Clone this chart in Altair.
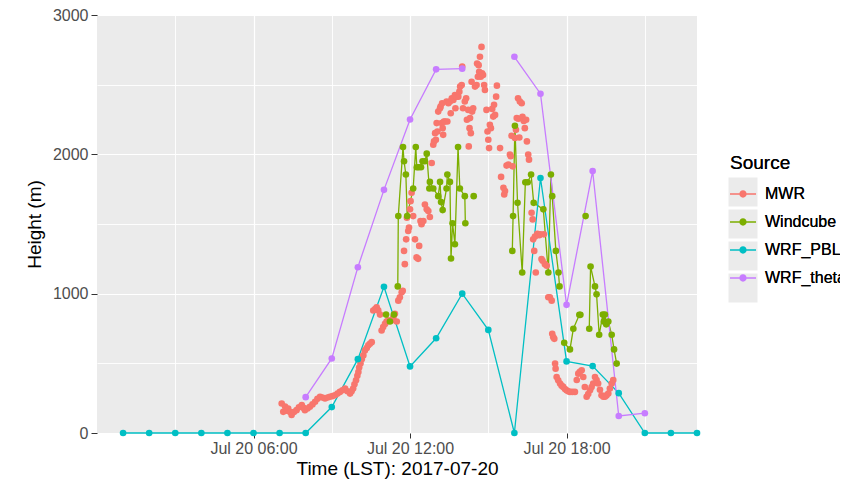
import altair as alt
import pandas as pd

sources = ["MWR", "Windcube", "WRF_PBLH", "WRF_theta"]
colors = ["#F8766D", "#7CAE00", "#00BFC4", "#C77CFF"]

# ---- MWR (points only) : hour of day, height (m)
mwr_hour = [
    7.08, 7.14, 7.21, 7.27, 7.33, 7.40, 7.46, 7.55, 7.65, 7.74, 7.85, 7.92, 7.97,
    8.07, 8.16, 8.26, 8.36, 8.45, 8.55, 8.64, 8.74, 8.84, 8.93, 9.03, 9.12, 9.22,
    9.31, 9.41, 9.51, 9.60, 9.70, 9.76, 9.82, 9.87, 9.93, 9.98, 10.02, 10.05,
    10.10, 10.15, 10.21, 10.27, 10.34, 10.40, 10.46, 10.53, 10.59, 10.66, 10.72,
    10.78, 10.85, 10.91, 10.97, 11.04, 11.10, 11.16, 11.23, 11.29, 11.36, 11.42,
    11.49, 11.55, 11.61, 11.68, 11.72, 11.77, 11.80, 11.85, 11.88, 11.93, 11.96,
    12.00, 12.02, 12.06, 12.12, 12.19, 12.25, 12.31, 12.35, 12.40, 12.44, 12.51,
    12.57, 12.64, 12.70, 12.76, 12.83, 12.89, 12.92, 12.96, 12.99, 13.02, 13.05,
    13.08, 13.15, 13.17, 13.21, 13.23, 13.25, 13.27, 13.30, 13.34, 13.40, 13.43,
    13.47, 13.53, 13.56, 13.60, 13.66, 13.72, 13.74, 13.79, 13.85, 13.89, 13.92,
    13.98, 14.00, 14.03, 14.10, 14.15, 14.18, 14.23, 14.25, 14.28, 14.30, 14.33,
    14.36, 14.38, 14.42, 14.49, 14.55, 14.57, 14.60, 14.63, 14.65, 14.68, 14.71,
    14.74, 14.76, 14.80, 14.84, 14.87, 14.93, 14.97, 15.00, 15.03, 15.06, 15.10,
    15.15, 15.19, 15.22, 15.26, 15.30, 15.33, 15.45, 15.49, 15.58, 15.61, 15.64,
    15.70, 15.77, 15.83, 15.86, 15.89, 15.93, 16.02, 16.06, 16.09, 16.14, 16.16,
    16.19, 16.21, 16.28, 16.31, 16.36, 16.40, 16.45, 16.48, 16.53, 16.56, 16.66,
    16.70, 16.72, 16.76, 16.79, 16.82, 16.88, 16.95, 17.00, 17.04, 17.08, 17.13,
    17.17, 17.24, 17.30, 17.36, 17.43, 17.45, 17.49, 17.53, 17.56, 17.58, 17.62,
    17.68, 17.75, 17.81, 17.87, 17.94, 18.00, 18.06, 18.13, 18.22, 18.32, 18.39,
    18.45, 18.51, 18.58, 18.64, 18.70, 18.77, 18.83, 18.90, 18.96, 19.02, 19.09,
    19.15, 19.21, 19.28, 19.34, 19.41, 19.47, 19.53, 19.60, 19.66, 19.73, 19.79,
]
mwr_height = [
    212, 152, 190, 160, 176, 150, 129, 150, 164, 185, 200, 180, 164,
    176, 188, 205, 224, 245, 260, 255, 248, 255, 260, 265, 271, 283,
    295, 307, 319, 300, 283, 300, 319, 350, 379, 410, 438, 470,
    498, 530, 557, 593, 610, 629, 640, 652, 879, 890, 902,
    880, 850, 736, 760, 783, 800, 807, 807, 807, 830, 855,
    800, 950, 974, 1010, 1021, 1307, 1212, 1390, 1545, 1450, 1474,
    1605, 1664, 1724, 1557, 1390, 1260, 1250, 1343, 1521, 1498, 1521,
    1640, 1605, 1593, 1550, 1938, 2069, 2093, 2152, 2105, 2224, 2164,
    2307, 2331, 2343, 2224, 2367, 2188, 2140, 2236, 2236, 2379, 2236,
    2367, 2379, 2295, 2402, 2390, 2426, 2331, 2414, 2414, 2450, 2486,
    2498, 2630, 2331, 2379, 2402, 2248, 2319, 2057, 2188, 2260, 2152,
    2521, 2307, 2331, 2486, 2498, 2652, 2557, 2640, 2593, 2700, 2557,
    2771, 2581, 2569, 2498, 2462, 2319, 2164, 2105, 2045, 2212, 2188,
    2326, 2271, 2355, 2283, 2414, 2493, 2045, 1838, 1760, 1712, 1736,
    1919, 1926, 1998, 1986, 2133, 1914, 2117, 2176, 2260, 2402, 2255,
    2121, 2379, 2367, 2270, 2240, 2188, 2248, 2093, 1998, 1962, 1581,
    1533, 1390, 1307, 1410, 1152, 1430, 1420, 1426, 1248, 1236, 1426,
    1212, 1200, 974, 974, 950, 712, 688, 676, 498, 462, 402,
    379, 355, 340, 331, 315, 307, 300, 295, 295, 295, 380,
    426, 440, 450, 402, 330, 260, 280, 307, 330, 355, 402,
    380, 355, 310, 271, 260, 260, 270, 283, 319, 355, 380,
]

# ---- Windcube (points + line, gaps split the line into segments)
wind_hour = [
    11.08, 11.23, 11.38,
    11.53, 11.55, 11.73, 11.77, 11.84, 11.89, 12.12, 12.22, 12.26, 12.33, 12.42,
    12.48, 12.57, 12.64, 12.74, 12.76, 12.89, 13.08, 13.15, 13.19, 13.25, 13.40,
    13.43, 13.53, 13.57, 13.63, 13.72, 13.84, 13.91, 14.10, 14.12,
    14.44,
    15.92, 15.95, 16.02, 16.12, 16.30, 16.42, 16.51, 16.64, 16.74, 17.11, 17.30,
    17.40, 17.45, 17.59, 17.69, 17.73,
    17.91, 18.13, 18.26, 18.49, 18.53,
    18.73,
    18.87, 18.92, 19.09, 19.15, 19.25, 19.39, 19.43, 19.47, 19.52, 19.60, 19.73,
    19.82, 19.92,
]
wind_height = [
    850, 800, 850,
    1052, 1557, 2052, 1950, 1855, 1557, 1755, 2052, 1907, 1907, 1907,
    1950, 1950, 2005, 1755, 1802, 1755, 1700, 1802, 1657, 1600, 1755,
    1855, 1802, 1252, 1505, 1355, 2052, 1755, 1700, 1505,
    1700,
    1307, 1557, 2205, 1652, 1152, 1800, 1800, 1855, 1652, 1605, 1152,
    1855, 1700, 1307, 1152, 1052,
    648, 600, 748, 848, 848,
    1557,
    748, 1195, 1052, 995, 705, 850, 800, 850, 780, 800, 705,
    600, 498,
]
wind_seg = (["a"] * 3 + ["b"] * 31 + ["c"] + ["d"] * 16 + ["e"] * 5 + ["f"]
            + ["g"] * 13)

# ---- WRF PBLH (hourly)
pblh_hour = list(range(1, 24))
pblh_height = [0, 0, 0, 0, 0, 0, 0, 0, 186, 530, 1050, 478, 680, 1000, 740,
               0, 1830, 514, 480, 286, 0, 0, 0]

# ---- WRF theta (hourly, 15:00 missing)
theta_hour = [8, 9, 10, 11, 12, 13, 14, 16, 17, 18, 19, 20, 21]
theta_height = [257, 535, 1190, 1745, 2250, 2610, 2615, 2700, 2435, 920,
                1880, 122, 142]
theta_seg = ["a"] * 7 + ["b"] * 6

rows = []
for h, v in zip(mwr_hour, mwr_height):
    rows.append({"hour": h, "height": v, "Source": "MWR", "seg": "a"})
for h, v, s in zip(wind_hour, wind_height, wind_seg):
    rows.append({"hour": h, "height": v, "Source": "Windcube", "seg": s})
for h, v in zip(pblh_hour, pblh_height):
    rows.append({"hour": h, "height": v, "Source": "WRF_PBLH", "seg": "a"})
for h, v, s in zip(theta_hour, theta_height, theta_seg):
    rows.append({"hour": h, "height": v, "Source": "WRF_theta", "seg": s})
df = pd.DataFrame(rows)
df["order"] = range(len(df))
df["Key"] = df["Source"]

x_ticks = [3, 6, 9, 12, 15, 18, 21]
y_ticks = [0, 500, 1000, 1500, 2000, 2500, 3000]

x_enc = alt.X(
    "hour:Q",
    scale=alt.Scale(domain=[0, 23], nice=False, zero=False),
    axis=alt.Axis(
        values=x_ticks,
        labelExpr="datum.value % 6 === 0 ? 'Jul 20 ' + (datum.value < 10 ? '0' : '') + datum.value + ':00' : ''",
        title="Time (LST): 2017-07-20",
        tickColor={"condition": {"test": "datum.value % 6 === 0", "value": "#333333"},
                   "value": "transparent"},
        gridWidth={"condition": {"test": "datum.value % 6 === 0", "value": 1.2},
                   "value": 0.9},
        tickSize=5,
        labelPadding=2,
        titlePadding=3,
    ),
)
y_enc = alt.Y(
    "height:Q",
    scale=alt.Scale(domain=[0, 3000], nice=False, zero=True),
    axis=alt.Axis(
        values=y_ticks,
        labelExpr="datum.value % 1000 === 0 ? '' + datum.value : ''",
        title="Height (m)",
        tickColor={"condition": {"test": "datum.value % 1000 === 0", "value": "#333333"},
                   "value": "transparent"},
        gridWidth={"condition": {"test": "datum.value % 1000 === 0", "value": 1.2},
                   "value": 0.9},
        tickSize=6,
        labelPadding=3,
        titlePadding=8,
    ),
)

color_scale = alt.Scale(domain=sources, range=colors)
legend_symbol = ("M-1,-0.05H1V0.05H-1Z "
                 "M-0.28,0A0.28,0.28 0 1,1 0.28,0A0.28,0.28 0 1,1 -0.28,0Z")

legend = alt.Legend(
    title="Source",
    orient="none",
    legendX=633,
    legendY=139,
    symbolType=legend_symbol,
    symbolSize=676,
    symbolStrokeWidth=0,
    symbolOpacity=1,
    titleFontSize=19,
    titleFont="Liberation Sans",
    titleFontWeight="normal",
    titleColor="black",
    titlePadding=8,
    labelFontSize=16,
    labelFont="Liberation Sans",
    labelColor="black",
    labelOffset=9,
    rowPadding=7,
    padding=0,
    zindex=2,
)

# grey key boxes behind the legend symbols (no title, empty labels)
key_legend = alt.Legend(
    title=None,
    orient="none",
    legendX=631,
    legendY=162,
    symbolType="square",
    symbolSize=841,
    symbolFillColor="#EBEBEB",
    symbolStrokeColor="white",
    symbolStrokeWidth=1,
    symbolOpacity=1,
    labelExpr="''",
    labelFontSize=16,
    rowPadding=-3,
    padding=0,
    zindex=1,
)

color_enc = alt.Color("Source:N", scale=color_scale, legend=legend)

base = alt.Chart(df)

lines = base.transform_filter("datum.Source !== 'MWR'").mark_line(
    strokeWidth=1.3
).encode(
    x=x_enc,
    y=y_enc,
    color=color_enc,
    detail="seg:N",
    order="hour:Q",
)

points = base.mark_circle(size=44, opacity=1).encode(
    x=x_enc,
    y=y_enc,
    color=color_enc,
    order="order:Q",
)

# legend key backgrounds (no marks drawn: all rows filtered out)
keys = base.transform_filter("false").mark_point(
    filled=True, color="#EBEBEB", opacity=1
).encode(
    x=x_enc,
    y=y_enc,
    shape=alt.Shape("Key:N", scale=alt.Scale(domain=sources, range=["square"] * 4),
                    legend=key_legend),
)

chart = alt.layer(keys, lines, points).resolve_legend(
    color="independent", shape="independent"
).properties(
    width=600,
    height=418,
    autosize=alt.AutoSizeParams(type="none"),
    padding={"left": 89, "top": 7, "right": 143, "bottom": 50},
    background="white",
).configure_view(
    fill="#EBEBEB", stroke=None
).configure_axis(
    grid=True,
    gridColor="white",
    domain=False,
    labelFont="Liberation Sans",
    labelFontSize=16,
    labelColor="#4D4D4D",
    titleFont="Liberation Sans",
    titleFontSize=19,
    titleFontWeight="normal",
    titleColor="black",
)

chart.save("out.html", embed_options={"renderer": "svg", "actions": False})
